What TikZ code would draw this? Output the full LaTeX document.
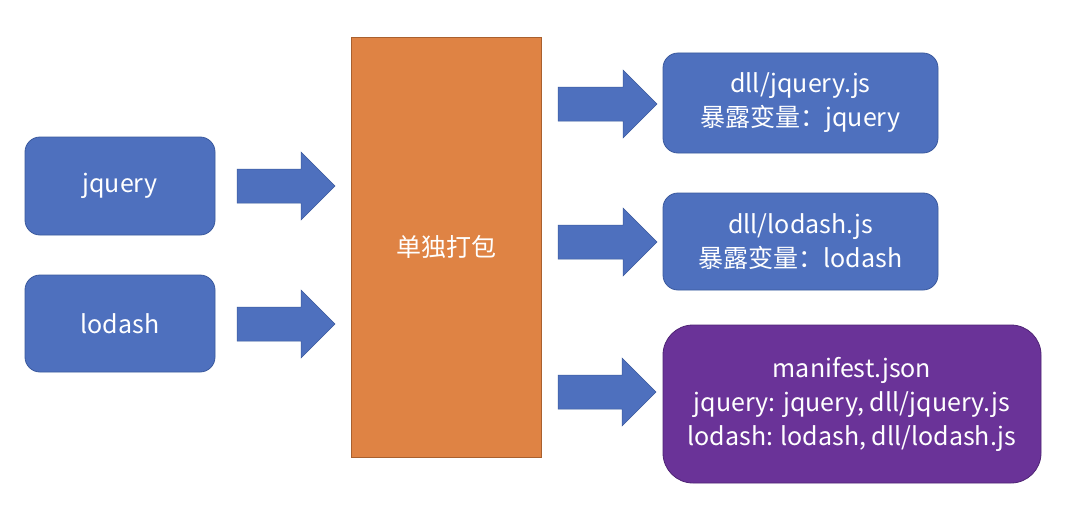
\documentclass[tikz,border=0pt]{standalone}
\usepackage{fontspec}
\setmainfont{Noto Sans CJK SC}
\definecolor{boxblue}{HTML}{4E70BE}
\definecolor{boxblueline}{HTML}{3B5A9E}
\definecolor{boxorange}{HTML}{DF8344}
\definecolor{boxorangeline}{HTML}{A9602E}
\definecolor{boxpurple}{HTML}{6A3398}
\definecolor{boxpurpleline}{HTML}{4F2475}
\begin{document}
\begin{tikzpicture}[x=1pt,y=-1pt,
  txt/.style={text=white,font=\fontsize{25}{34}\selectfont,align=center},
  bluebox/.style={txt,fill=boxblue,draw=boxblueline,line width=0.8pt,rounded corners=15pt,inner sep=0pt},
  purplebox/.style={txt,fill=boxpurple,draw=boxpurpleline,line width=0.8pt,rounded corners=30pt,inner sep=0pt},
  orangebox/.style={txt,fill=boxorange,draw=boxorangeline,line width=0.8pt,inner sep=0pt},
  blockarrow/.style={fill=boxblue,draw=boxblueline,line width=0.5pt}
]
\useasboundingbox (0,0) rectangle (1070,519);
\fill[white] (0,0) rectangle (1070,519);

% boxes
\node[bluebox,minimum width=190pt,minimum height=98pt] (jq) at (120,186) {jquery};
\node[bluebox,minimum width=190pt,minimum height=97pt] (lo) at (120,323.5) {lodash};
\node[orangebox,minimum width=190pt,minimum height=420pt] (pack) at (446,247) {单独打包};
\node[bluebox,minimum width=275pt,minimum height=100pt] (djq) at (800.5,103) {dll/jquery.js\\暴露变量：jquery};
\node[bluebox,minimum width=275pt,minimum height=97pt] (dlo) at (800.5,241.5) {dll/lodash.js\\暴露变量：lodash};
\node[purplebox,minimum width=378pt,minimum height=158pt] (man) at (852,404) {manifest.json\\jquery: jquery, dll/jquery.js\\lodash: lodash, dll/lodash.js};

% block arrows
\newcommand{\blockarr}[4]{% x-start, x-neck, x-tip, y-center
  \draw[blockarrow] (#1,#4-17) -- (#2,#4-17) -- (#2,#4-34) -- (#3,#4) -- (#2,#4+34) -- (#2,#4+17) -- (#1,#4+17) -- cycle;}
\blockarr{237}{301}{335}{186}
\blockarr{237}{301}{335}{324}
\blockarr{558}{623}{657}{104}
\blockarr{558}{623}{657}{242}
\blockarr{558}{622}{656}{392}
\end{tikzpicture}
\end{document}
